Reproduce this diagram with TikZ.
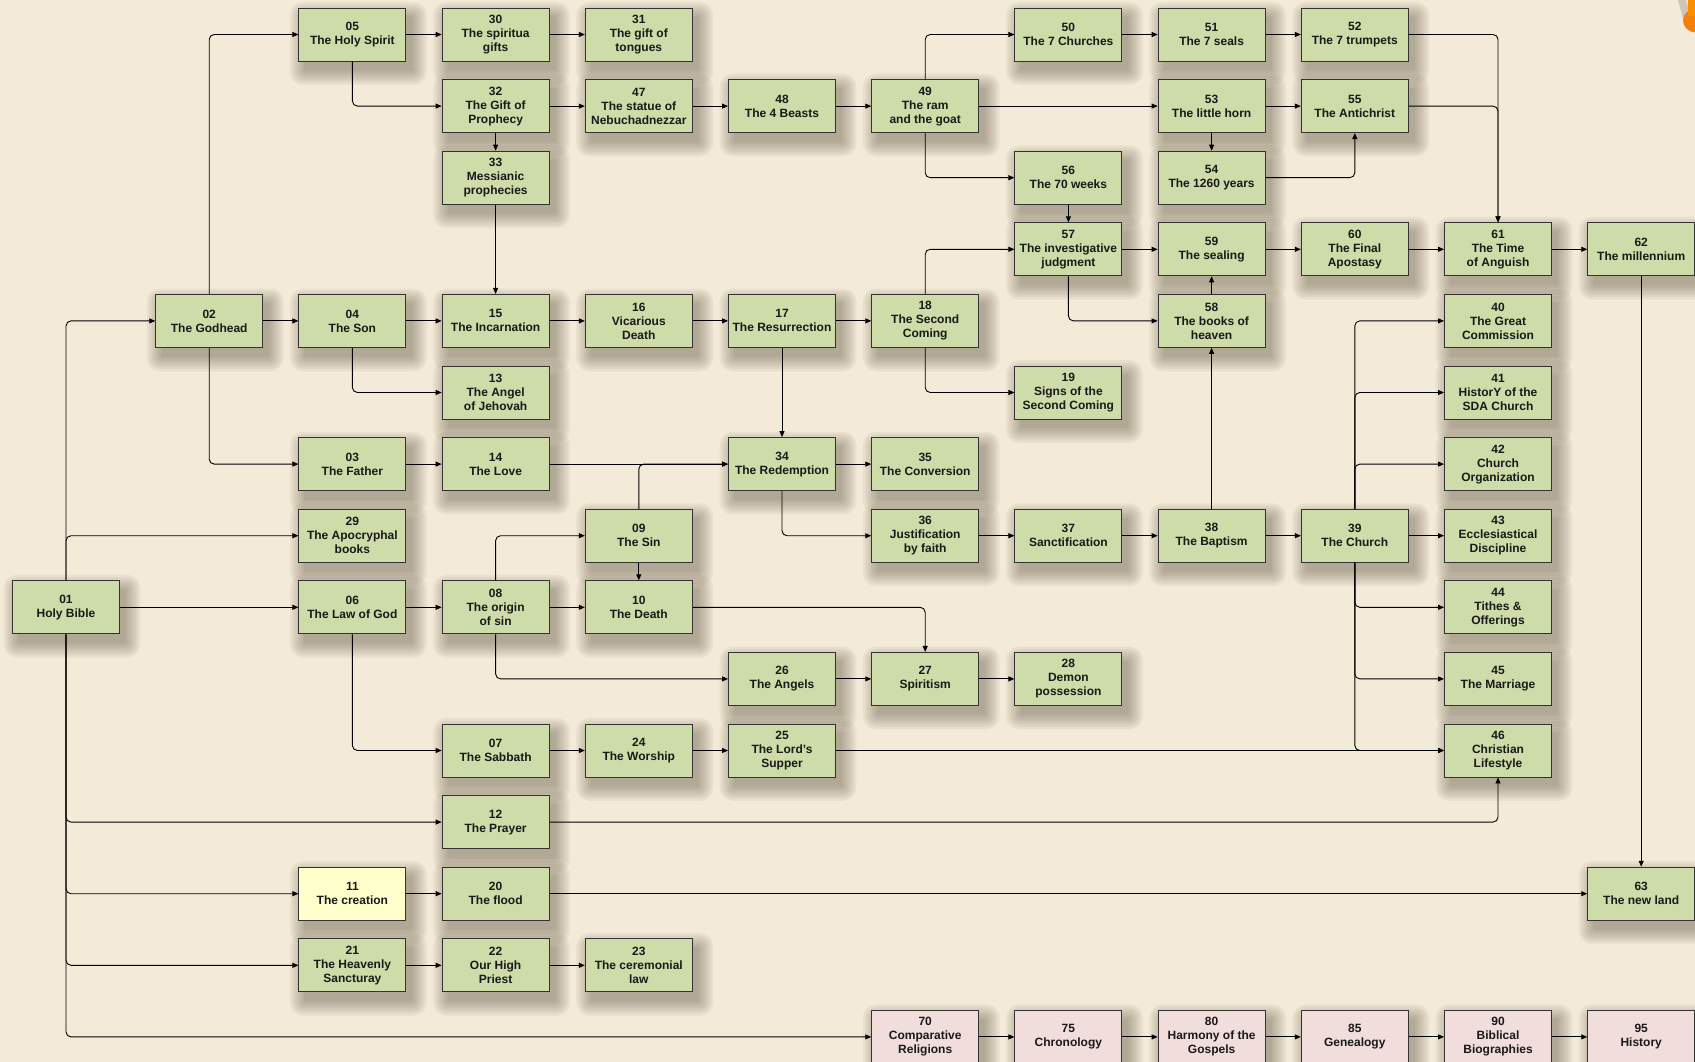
\documentclass[tikz,border=0pt]{standalone}
\usepackage{fontspec}
\setmainfont{Liberation Sans}
\usetikzlibrary{arrows.meta}
\definecolor{leaf}{RGB}{205,220,168}
\definecolor{rose}{RGB}{242,221,221}
\definecolor{cream}{RGB}{255,255,204}
\definecolor{parchment}{RGB}{243,235,215}
\definecolor{smudge}{RGB}{60,50,30}
\definecolor{ink}{RGB}{25,25,25}
\pgfdeclarelayer{paper}
\pgfdeclarelayer{shade}
\pgfsetlayers{paper,shade,main}

\begin{document}
\begin{tikzpicture}[>={Triangle[length=6pt,width=5pt]}, x=143.2pt, y=-71.6pt,
  topic/.style={draw=black!80, line width=0.9pt, fill=leaf, text=ink,
    minimum width=107pt, minimum height=53pt, inner sep=1pt, align=center,
    font=\bfseries\fontsize{12}{14}\selectfont},
  extra/.style={topic, fill=rose},
  link/.style={->, line width=0.9pt, rounded corners=5pt}]
  \useasboundingbox (-66pt,34.5pt) rectangle (1629pt,-1027.5pt);
  \begin{pgfonlayer}{paper}
    \fill[parchment] (-66pt,34.5pt) rectangle (1629pt,-1027.5pt);
  \end{pgfonlayer}
  % ornament cut off at the top right corner
  \fill[black, opacity=.15] (1612pt,34.5pt) -- (1620pt,34.5pt) -- (1626pt,14pt) -- (1618pt,12pt) -- cycle;
  \fill[orange!80!brown] (1630pt,14pt) ellipse (13pt and 12pt);
  \fill[orange!90!yellow] (1622pt,34.5pt) rectangle (1629pt,18pt);

  % row 0
  \node[topic] (t05) at (2,0) {05\\The Holy Spirit};
  \node[topic] (t30) at (3,0) {30\\The spiritua\\gifts};
  \node[topic] (t31) at (4,0) {31\\The gift of\\tongues};
  \node[topic] (t50) at (7,0) {50\\The 7 Churches};
  \node[topic] (t51) at (8,0) {51\\The 7 seals};
  \node[topic] (t52) at (9,0) {52\\The 7 trumpets};
  % row 1
  \node[topic] (t32) at (3,1) {32\\The Gift of\\Prophecy};
  \node[topic] (t47) at (4,1) {47\\The statue of\\Nebuchadnezzar};
  \node[topic] (t48) at (5,1) {48\\The 4 Beasts};
  \node[topic] (t49) at (6,1) {49\\The ram\\and the goat};
  \node[topic] (t53) at (8,1) {53\\The little horn};
  \node[topic] (t55) at (9,1) {55\\The Antichrist};
  % row 2
  \node[topic] (t33) at (3,2) {33\\Messianic\\prophecies};
  \node[topic] (t56) at (7,2) {56\\The 70 weeks};
  \node[topic] (t54) at (8,2) {54\\The 1260 years};
  % row 3
  \node[topic] (t57) at (7,3) {57\\The investigative\\judgment};
  \node[topic] (t59) at (8,3) {59\\The sealing};
  \node[topic] (t60) at (9,3) {60\\The Final\\Apostasy};
  \node[topic] (t61) at (10,3) {61\\The Time\\of Anguish};
  \node[topic] (t62) at (11,3) {62\\The millennium};
  % row 4
  \node[topic] (t02) at (1,4) {02\\The Godhead};
  \node[topic] (t04) at (2,4) {04\\The Son};
  \node[topic] (t15) at (3,4) {15\\The Incarnation};
  \node[topic] (t16) at (4,4) {16\\Vicarious\\Death};
  \node[topic] (t17) at (5,4) {17\\The Resurrection};
  \node[topic] (t18) at (6,4) {18\\The Second\\Coming};
  \node[topic] (t58) at (8,4) {58\\The books of\\heaven};
  \node[topic] (t40) at (10,4) {40\\The Great\\Commission};
  % row 5
  \node[topic] (t13) at (3,5) {13\\The Angel\\of Jehovah};
  \node[topic] (t19) at (7,5) {19\\Signs of the\\Second Coming};
  \node[topic] (t41) at (10,5) {41\\HistorY of the\\SDA Church};
  % row 6
  \node[topic] (t03) at (2,6) {03\\The Father};
  \node[topic] (t14) at (3,6) {14\\The Love};
  \node[topic] (t34) at (5,6) {34\\The Redemption};
  \node[topic] (t35) at (6,6) {35\\The Conversion};
  \node[topic] (t42) at (10,6) {42\\Church\\Organization};
  % row 7
  \node[topic] (t29) at (2,7) {29\\The Apocryphal\\books};
  \node[topic] (t09) at (4,7) {09\\The Sin};
  \node[topic] (t36) at (6,7) {36\\Justification\\by faith};
  \node[topic] (t37) at (7,7) {37\\Sanctification};
  \node[topic] (t38) at (8,7) {38\\The Baptism};
  \node[topic] (t39) at (9,7) {39\\The Church};
  \node[topic] (t43) at (10,7) {43\\Ecclesiastical\\Discipline};
  % row 8
  \node[topic] (t01) at (0,8) {01\\Holy Bible};
  \node[topic] (t06) at (2,8) {06\\The Law of God};
  \node[topic] (t08) at (3,8) {08\\The origin\\of sin};
  \node[topic] (t10) at (4,8) {10\\The Death};
  \node[topic] (t44) at (10,8) {44\\Tithes \&\\Offerings};
  % row 9
  \node[topic] (t26) at (5,9) {26\\The Angels};
  \node[topic] (t27) at (6,9) {27\\Spiritism};
  \node[topic] (t28) at (7,9) {28\\Demon\\possession};
  \node[topic] (t45) at (10,9) {45\\The Marriage};
  % row 10
  \node[topic] (t07) at (3,10) {07\\The Sabbath};
  \node[topic] (t24) at (4,10) {24\\The Worship};
  \node[topic] (t25) at (5,10) {25\\The Lord's\\Supper};
  \node[topic] (t46) at (10,10) {46\\Christian\\Lifestyle};
  % rows 11 to 13
  \node[topic] (t12) at (3,11) {12\\The Prayer};
  \node[topic, fill=cream] (t11) at (2,12) {11\\The creation};
  \node[topic] (t20) at (3,12) {20\\The flood};
  \node[topic] (t63) at (11,12) {63\\The new land};
  \node[topic] (t21) at (2,13) {21\\The Heavenly\\Sancturay};
  \node[topic] (t22) at (3,13) {22\\Our High\\Priest};
  \node[topic] (t23) at (4,13) {23\\The ceremonial\\law};
  % bottom row, extra studies
  \node[extra] (t70) at (6,14) {70\\Comparative\\Religions};
  \node[extra] (t75) at (7,14) {75\\Chronology};
  \node[extra] (t80) at (8,14) {80\\Harmony of the\\Gospels};
  \node[extra] (t85) at (9,14) {85\\Genealogy};
  \node[extra] (t90) at (10,14) {90\\Biblical\\Biographies};
  \node[extra] (t95) at (11,14) {95\\History};

  % soft shadows under every box
  \begin{pgfonlayer}{shade}
    \foreach \n in {01,02,03,04,05,06,07,08,09,10,11,12,13,14,15,16,17,18,19,20,
      21,22,23,24,25,26,27,28,29,30,31,32,33,34,35,36,37,38,39,40,41,42,43,44,45,
      46,47,48,49,50,51,52,53,54,55,56,57,58,59,60,61,62,63,70,75,80,85,90,95}
      \foreach \k in {0,...,6}
        \fill[smudge, opacity=.06, rounded corners=\k*2pt+1pt]
          ([xshift={6pt-\k*2.4pt}, yshift={-9pt-\k*2.4pt}]t\n.south west)
          rectangle ([xshift={6pt+\k*2.4pt}, yshift={-9pt+\k*2.4pt}]t\n.north east);
  \end{pgfonlayer}

  % from the Bible
  \draw[link] (t01) |- (t02);
  \draw[link] (t01) |- (t29);
  \draw[link] (t01) -- (t06);
  \draw[link] (t01) |- (t12);
  \draw[link] (t01) |- (t11);
  \draw[link] (t01) |- (t21);
  \draw[link] (t01) |- (t70);
  % Godhead
  \draw[link] (t02) |- (t05);
  \draw[link] (t02) -- (t04);
  \draw[link] (t02) |- (t03);
  \draw[link] (t05) -- (t30);
  \draw[link] (t30) -- (t31);
  \draw[link] (t05) |- (t32);
  \draw[link] (t32) -- (t33);
  \draw[link] (t33) -- (t15);
  \draw[link] (t04) -- (t15);
  \draw[link] (t04) |- (t13);
  \draw[link] (t03) -- (t14);
  \draw[link] (t14) -- (t34);
  % prophecy
  \draw[link] (t32) -- (t47);
  \draw[link] (t47) -- (t48);
  \draw[link] (t48) -- (t49);
  \draw[link] (t49) |- (t50);
  \draw[link] (t49) -- (t53);
  \draw[link] (t49) |- (t56);
  \draw[link] (t50) -- (t51);
  \draw[link] (t51) -- (t52);
  \draw[link] (t53) -- (t55);
  \draw[link] (t53) -- (t54);
  \draw[link] (t54) -| (t55);
  \draw[link] (t52) -| (t61);
  \draw[link] (t55) -| (t61);
  \draw[link] (t56) -- (t57);
  \draw[link] (t57) -- (t59);
  \draw[link] (t57) |- (t58);
  \draw[link] (t58) -- (t59);
  \draw[link] (t59) -- (t60);
  \draw[link] (t60) -- (t61);
  \draw[link] (t61) -- (t62);
  \draw[link] (t62) -- (t63);
  % Christ
  \draw[link] (t15) -- (t16);
  \draw[link] (t16) -- (t17);
  \draw[link] (t17) -- (t18);
  \draw[link] (t17) -- (t34);
  \draw[link] (t18) |- (t57);
  \draw[link] (t18) |- (t19);
  \draw[link] (t34) -- (t35);
  \draw[link] (t34) |- (t36);
  \draw[link] (t36) -- (t37);
  \draw[link] (t37) -- (t38);
  \draw[link] (t38) -- (t58);
  \draw[link] (t38) -- (t39);
  % Church
  \draw[link] (t39) |- (t40);
  \draw[link] (t39) |- (t41);
  \draw[link] (t39) |- (t42);
  \draw[link] (t39) -- (t43);
  \draw[link] (t39) |- (t44);
  \draw[link] (t39) |- (t45);
  \draw[link] (t39) |- (t46);
  % law and sin
  \draw[link] (t06) -- (t08);
  \draw[link] (t06) |- (t07);
  \draw[link] (t08) |- (t09);
  \draw[link] (t08) -- (t10);
  \draw[link] (t08) |- (t26);
  \draw[link] (t09) |- (t34);
  \draw[link] (t09) -- (t10);
  \draw[link] (t10) -| (t27);
  \draw[link] (t26) -- (t27);
  \draw[link] (t27) -- (t28);
  \draw[link] (t07) -- (t24);
  \draw[link] (t24) -- (t25);
  \draw[link] (t25) -- (t46);
  \draw[link] (t12) -| (t46);
  \draw[link] (t11) -- (t20);
  \draw[link] (t20) -- (t63);
  \draw[link] (t21) -- (t22);
  \draw[link] (t22) -- (t23);
  % extra studies
  \draw[link] (t70) -- (t75);
  \draw[link] (t75) -- (t80);
  \draw[link] (t80) -- (t85);
  \draw[link] (t85) -- (t90);
  \draw[link] (t90) -- (t95);
\end{tikzpicture}
\end{document}
